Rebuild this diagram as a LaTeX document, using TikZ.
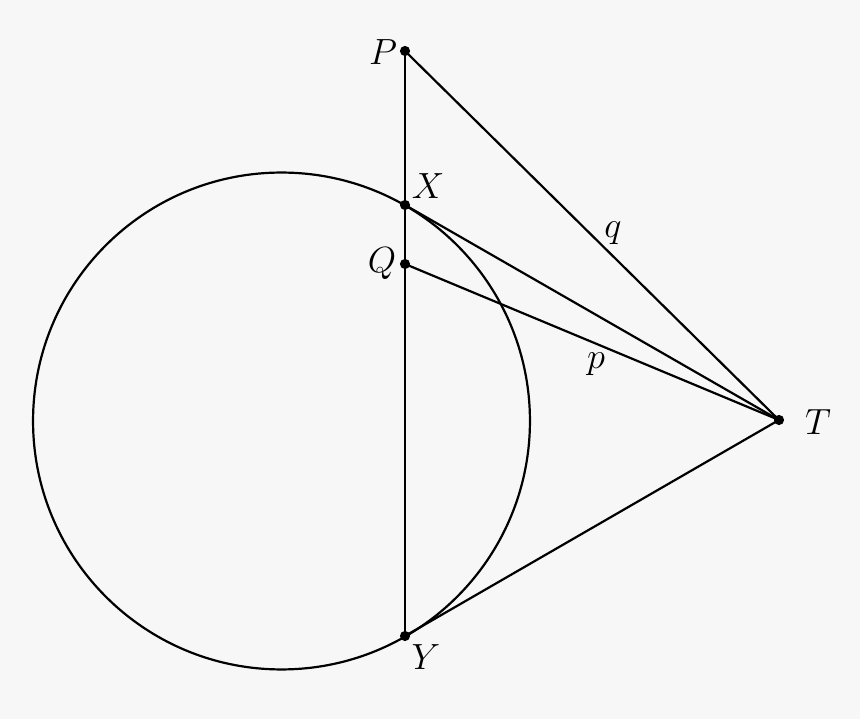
\documentclass[tikz,border=0pt]{standalone}
\definecolor{bg}{HTML}{F7F7F7}
\begin{document}
\begin{tikzpicture}[x=0.02cm,y=-0.02cm,
  ln/.style={line width=1.25pt,black},
  dot/.style={circle,fill=black,inner sep=0pt,minimum size=5.8pt},
  lbl/.style={font=\fontsize{21}{25}\selectfont,inner sep=0pt}]
\fill[bg] (0,0) rectangle (860,719);
\useasboundingbox (0,0) rectangle (860,719);
\coordinate (O) at (281.5,421);
\draw[ln] (O) circle[radius=4.97cm];
\node[dot] (P) at (405,51) {};
\node[dot] (X) at (405,205) {};
\node[dot] (Q) at (405,264) {};
\node[dot] (Y) at (405,636) {};
\node[dot] (T) at (779,420) {};
\draw[ln] (P.center) -- (Y.center);
\draw[ln] (P.center) -- (T.center);
\draw[ln] (X.center) -- (T.center);
\draw[ln] (Q.center) -- (T.center);
\draw[ln] (Y.center) -- (T.center);
\node[lbl] (lP) at (383,52) {$P$};
\node[lbl] (lX) at (428,186) {$X$};
\node[lbl] (lQ) at (382,264) {$Q$};
\node[lbl] (lY) at (426,657) {$Y$};
\node[lbl] (lT) at (818,422) {$T$};
\node[lbl] (lq) at (613,233) {$q$};
\node[lbl] (lp) at (596,364) {$p$};
\end{tikzpicture}
\end{document}
